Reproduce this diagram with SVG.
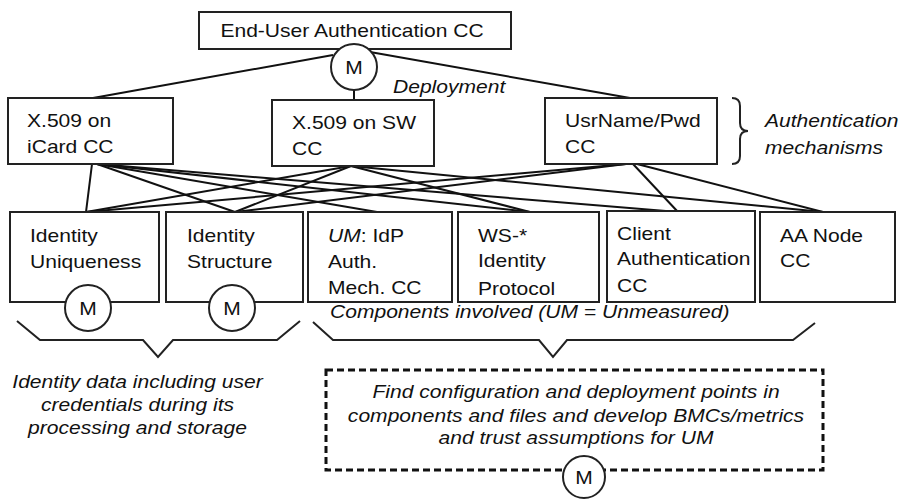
<svg xmlns="http://www.w3.org/2000/svg" width="901" height="501" viewBox="0 0 901 501">
<style>
.bx{fill:#fff;stroke:#222;stroke-width:2}
.t{font-family:"Liberation Sans",Arial,sans-serif;font-size:18px;fill:#111}
.i{font-style:italic}
.c{text-anchor:middle}
.cn line{stroke:#111;stroke-width:2}
.m{fill:#fff;stroke:#222;stroke-width:2}
.br{fill:none;stroke:#222;stroke-width:2}
.dash{fill:none;stroke:#111;stroke-width:3;stroke-dasharray:7 4}
</style>
<rect width="901" height="501" fill="#fff"/>
<g id="connectors" class="cn">
<line x1="333" y1="55" x2="93" y2="98"/>
<line x1="370" y1="52" x2="630" y2="98"/>
<line x1="354" y1="88" x2="354" y2="100"/>
<line x1="92" y1="164" x2="86" y2="212"/>
<line x1="97" y1="164" x2="235" y2="212"/>
<line x1="97" y1="164" x2="377" y2="212"/>
<line x1="97" y1="164" x2="530" y2="212"/>
<line x1="97" y1="164" x2="678" y2="212"/>
<line x1="351" y1="166" x2="86" y2="212"/>
<line x1="351" y1="166" x2="235" y2="212"/>
<line x1="351" y1="166" x2="530" y2="212"/>
<line x1="351" y1="166" x2="823" y2="212"/>
<line x1="626" y1="164" x2="86" y2="212"/>
<line x1="626" y1="164" x2="235" y2="212"/>
<line x1="633" y1="164" x2="678" y2="212"/>
<line x1="637" y1="164" x2="823" y2="212"/>
</g>
<g id="end-user-auth">
<rect class="bx" x="199" y="12" width="312" height="37"/>
<text class="t c" transform="translate(352,37) scale(1.17,1)">End-User Authentication CC</text>
<circle class="m" cx="354" cy="67" r="23"/>
<text class="t c" transform="translate(354,73.5) scale(1.17,1)">M</text>
</g>
<g id="deployment-label">
<text class="t i" transform="translate(393,93) scale(1.17,1)">Deployment</text>
</g>
<g id="x509-icard">
<rect class="bx" x="8" y="98" width="165" height="66"/>
<text class="t" transform="translate(27,127) scale(1.17,1)">X.509 on<tspan x="0" y="26">iCard CC</tspan></text>
</g>
<g id="x509-sw">
<rect class="bx" x="272" y="100" width="162" height="66"/>
<text class="t" transform="translate(292,129) scale(1.17,1)">X.509 on SW<tspan x="0" y="26">CC</tspan></text>
</g>
<g id="usrname-pwd">
<rect class="bx" x="545" y="98" width="172" height="66"/>
<text class="t" transform="translate(565,127) scale(1.17,1)">UsrName/Pwd<tspan x="0" y="26">CC</tspan></text>
</g>
<g id="auth-mechanisms-label">
<path class="br" d="M732,98 Q740,98 740,106 L740,123 Q740,131 748,131 Q740,131 740,139 L740,156 Q740,164 732,164"/>
<text class="t i" transform="translate(765,127) scale(1.17,1)">Authentication<tspan x="0" y="27">mechanisms</tspan></text>
</g>
<g id="identity-uniqueness">
<rect class="bx" x="10" y="212" width="149" height="90"/>
<text class="t" transform="translate(30,242) scale(1.17,1)">Identity<tspan x="0" y="26">Uniqueness</tspan></text>
<circle class="m" cx="88" cy="308" r="23"/>
<text class="t c" transform="translate(88,314.5) scale(1.17,1)">M</text>
</g>
<g id="identity-structure">
<rect class="bx" x="166" y="212" width="137" height="90"/>
<text class="t" transform="translate(187,242) scale(1.17,1)">Identity<tspan x="0" y="26">Structure</tspan></text>
<circle class="m" cx="232" cy="308" r="23"/>
<text class="t c" transform="translate(232,314.5) scale(1.17,1)">M</text>
</g>
<g id="um-idp">
<rect class="bx" x="308" y="212" width="144" height="90"/>
<text class="t" transform="translate(328,242) scale(1.17,1)"><tspan class="i">UM</tspan>: IdP<tspan x="0" y="26">Auth.</tspan><tspan x="0" y="52">Mech. CC</tspan></text>
</g>
<g id="ws-identity-protocol">
<rect class="bx" x="458" y="212" width="141" height="90"/>
<text class="t" transform="translate(478,242) scale(1.17,1)">WS-*<tspan x="0" y="25">Identity</tspan><tspan x="0" y="53">Protocol</tspan></text>
</g>
<g id="client-authentication">
<rect class="bx" x="607" y="211" width="148" height="91"/>
<text class="t" transform="translate(617,240) scale(1.17,1)">Client<tspan x="0" y="25">Authentication</tspan><tspan x="0" y="52">CC</tspan></text>
</g>
<g id="aa-node">
<rect class="bx" x="760" y="212" width="135" height="90"/>
<text class="t" transform="translate(780,242) scale(1.17,1)">AA Node<tspan x="0" y="25">CC</tspan></text>
</g>
<g id="identity-data">
<path class="br" d="M17,321 L40,340 L143,340 L158,357 L173,340 L277,340 L300,321"/>
<text class="t i c" transform="translate(137.5,388) scale(1.17,1)">Identity data including user<tspan x="0" y="23">credentials during its</tspan><tspan x="0" y="46">processing and storage</tspan></text>
</g>
<g id="components-involved">
<path class="br" d="M313,322 L333,340 L539,340 L553,357 L567,340 L793,340 L815,323"/>
<text class="t i" transform="translate(330,318) scale(1.17,1)">Components involved (UM = Unmeasured)</text>
</g>
<g id="find-config">
<rect class="dash" x="326" y="370" width="497" height="100"/>
<text class="t i c" transform="translate(576,398) scale(1.17,1)">Find configuration and deployment points in<tspan x="0" y="24">components and files and develop BMCs/metrics</tspan><tspan x="0" y="46">and trust assumptions for UM</tspan></text>
<circle class="m" cx="584" cy="477" r="21"/>
<text class="t c" transform="translate(584,483.5) scale(1.17,1)">M</text>
</g>
</svg>
